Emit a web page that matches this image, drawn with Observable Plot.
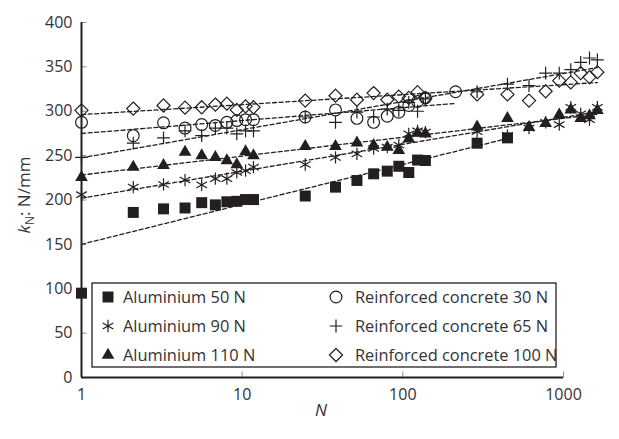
<!DOCTYPE html>
<html><head><meta charset="utf-8">
<script src="https://cdn.jsdelivr.net/npm/d3@7"></script>
<script src="https://cdn.jsdelivr.net/npm/@observablehq/plot@0.6"></script>
<style>
body{margin:0;background:#fff;}
#chart{width:619px;height:439px;}
</style></head><body><div id="chart"></div>
<script>
// N values (one shared grid of cycles)
const nRead = [1, 2.1, 3.24, 4.41, 5.6, 6.81, 8.03, 9.26, 10.5, 11.76,
  24.7, 38.1, 51.8, 65.8, 80.0, 94.4, 108.9, 123.5, 138.2, 213,
  290, 448, 610, 774, 941, 1110, 1280, 1452, 1625];

const seriesNames = ["Aluminium 50 N", "Aluminium 90 N", "Aluminium 110 N",
  "Reinforced concrete 30 N", "Reinforced concrete 65 N", "Reinforced concrete 100 N"];

const al50 = [95, 186, 190, 191, 197, 194.5, 198, 198.5, 200.5, 200.5,
  204.5, 214.5, 222, 229.5, 232.5, 238, 231, 245, 244.5, null,
  264, 270, null, null, null, null, null, null, null];
const al90 = [206, 214.5, 217.5, 222.5, 217, 224, 224, 231, 233, 237,
  240, 248, 252, 258, 259.5, 262, 274.5, 278, 276.5, null,
  277, 272.5, 281, 287.5, 285, 304.5, 297, 290.5, 304.5];
const al110 = [225.5, 237, 239, 254, 250, 248, 244.5, 240, 254.5, 250,
  260.5, 260.5, 264.5, 261.5, 259.5, 256, 269, 275.5, 274.5, null,
  282.5, 292, 282, 286.5, 296, 301.5, 292, 295, 301];
const rc30 = [287.5, 272.5, 287, 281, 285, 284, 287.5, 289.5, 290.5, 290.5,
  293.5, 301.5, 292, 287.5, 294.5, 299, 306.5, 311, 315, 322,
  null, null, null, null, null, null, null, null, null];
const rc65 = [248, 264, 270, 278, 272.5, 281, 281, 274.5, 278, 278,
  293.5, 287.5, 299, 293.5, 302.5, 301, 310, 300, 314, null,
  322, 330.5, 329, 343, 343, 347, 355, 360, 358];
const rc100 = [301, 303, 306.5, 304, 304.5, 307.5, 308.5, 301.5, 305.5, 304.5,
  312, 317.5, 313, 320.5, 313, 316.5, 315, 321.5, 315, null,
  319, 319, 312, 322.5, 334.5, 332.5, 343, 338.5, 344];

const xTicks = [1, 10, 100, 1000];
const yTicks = [0, 50, 100, 150, 200, 250, 300, 350, 400];

const ink = "#231f20";
const font = "'Open Sans', sans-serif";
const seriesValues = [al50, al90, al110, rc30, rc65, rc100];
const styles = [
  {symbol: "square", r: 6.2, filled: true},
  {symbol: "asterisk", r: 5.8, filled: false},
  {symbol: "triangle", r: 4.7, filled: true},
  {symbol: "circle", r: 5.9, filled: false},
  {symbol: "plus", r: 4.2, filled: false},
  {symbol: "diamond2", r: 5.9, filled: false}
];

const series = seriesValues.map((vals, i) => ({
  name: seriesNames[i],
  points: nRead.map((N, j) => ({N, k: vals[j]})).filter(d => d.k != null)
}));

// logarithmic least-squares trend line over each series' own range
function trend(points) {
  const xs = points.map(d => Math.log10(d.N)), ys = points.map(d => d.k);
  const mx = d3.mean(xs), my = d3.mean(ys);
  const b = d3.sum(xs, (x, i) => (x - mx) * (ys[i] - my)) / d3.sum(xs, x => (x - mx) ** 2);
  const a = my - b * mx;
  const [n0, n1] = d3.extent(points, d => d.N);
  return [n0, n1].map(N => ({N, k: a + b * Math.log10(N)}));
}

// inward tick shapes
const tickRight = {draw(ctx) { ctx.moveTo(0, 0); ctx.lineTo(5, 0); }};
const tickUp = {draw(ctx) { ctx.moveTo(0, 0); ctx.lineTo(0, -6); }};

const marks = [
  Plot.axisX({ticks: xTicks, tickFormat: d => String(d), tickSize: 0, tickPadding: 11,
    fill: "#333", label: null}),
  Plot.axisY({ticks: yTicks, tickSize: 0, tickPadding: 9, fill: "#333", label: null}),
  Plot.dot(yTicks, {x: () => 1, y: d => d, symbol: tickRight, fill: "none", stroke: "#8a8a8a", strokeWidth: 1}),
  Plot.dot(xTicks.slice(1), {x: d => d, y: () => 0, symbol: tickUp, fill: "none", stroke: "#8a8a8a", strokeWidth: 1})
];
series.forEach(s => {
  marks.push(Plot.line(trend(s.points), {x: "N", y: "k", stroke: ink, strokeWidth: 1.3, strokeDasharray: "4,2.6"}));
});
series.forEach((s, i) => {
  const st = styles[i];
  marks.push(Plot.dot(s.points, {x: "N", y: "k", symbol: st.symbol, r: st.r,
    fill: st.filled ? ink : "none", stroke: st.filled ? "none" : ink, strokeWidth: 1.2}));
});
marks.push(Plot.ruleX([1], {stroke: ink, strokeWidth: 2}));
marks.push(Plot.ruleY([0], {stroke: ink, strokeWidth: 2}));

const chart = Plot.plot({
  width: 619, height: 439,
  marginLeft: 81, marginRight: 56, marginTop: 22, marginBottom: 62,
  style: {fontFamily: font, fontSize: "16px", color: "#333", background: "#fff", overflow: "visible"},
  x: {type: "log", domain: [1, 1000]},
  y: {domain: [0, 400]},
  marks
});
document.getElementById("chart").append(chart);

const svg = d3.select(chart);
// y axis title
const yt = svg.append("text")
  .attr("transform", "translate(30,195) rotate(-90)")
  .attr("text-anchor", "middle")
  .attr("fill", "#333")
  .style("font-family", font).style("font-size", "17px");
yt.append("tspan").attr("font-style", "italic").text("k");
yt.append("tspan").attr("font-size", "12px").attr("dy", 4).text("N");
yt.append("tspan").attr("dy", -4).text(": N/mm");
// x axis title
svg.append("text").attr("x", 321).attr("y", 416).attr("text-anchor", "middle")
  .attr("fill", "#333").attr("font-style", "italic")
  .style("font-family", font).style("font-size", "17px").text("N");

// legend
const lg = svg.append("g").attr("text-anchor", "start");
lg.append("rect").attr("x", 92).attr("y", 283).attr("width", 464).attr("height", 84)
  .attr("fill", "#fff").attr("stroke", ink).attr("stroke-width", 1.3);
const symMap = {square: d3.symbolSquare, asterisk: d3.symbolAsterisk, triangle: d3.symbolTriangle,
  circle: d3.symbolCircle, plus: d3.symbolPlus, diamond2: d3.symbolDiamond2};
series.forEach((s, i) => {
  const col = Math.floor(i / 3), row = i % 3;
  const mx = col === 0 ? 108 : 336, tx = col === 0 ? 123 : 355, cy = 297 + row * 29;
  const st = styles[i];
  lg.append("path")
    .attr("d", d3.symbol(symMap[st.symbol], Math.PI * st.r * st.r)())
    .attr("transform", `translate(${mx},${cy})`)
    .attr("fill", st.filled ? ink : "none").attr("stroke", st.filled ? "none" : ink).attr("stroke-width", 1.2);
  lg.append("text").attr("x", tx).attr("y", cy).attr("dy", "0.35em").attr("fill", "#333")
    .attr("text-anchor", "start")
    .style("font-family", font).style("font-size", "16.4px").text(s.name);
});
</script></body></html>
